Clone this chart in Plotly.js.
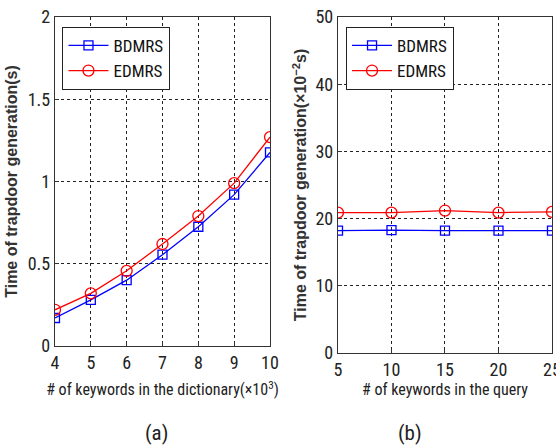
<!DOCTYPE html>
<html><head><meta charset="utf-8">
<script src="https://cdn.plot.ly/plotly-3.0.1.min.js"></script>
<style>html,body{margin:0;padding:0;background:#fff}#chart{width:556px;height:445px}</style>
</head><body><div id="chart"></div>
<script>
const dictKeywords = [4, 5, 6, 7, 8, 9, 10];
const bdmrsDict = [0.17, 0.28, 0.40, 0.555, 0.725, 0.92, 1.177];
const edmrsDict = [0.22, 0.32, 0.457, 0.62, 0.79, 0.99, 1.27];
const queryKeywords = [5, 10, 15, 20, 25];
const bdmrsQuery = [18.2, 18.3, 18.2, 18.2, 18.2];
const edmrsQuery = [20.9, 20.9, 21.2, 20.9, 21.0];
const seriesNames = ['BDMRS', 'EDMRS'];

const F = '"Roboto Condensed", "Liberation Sans", Arial, sans-serif';
const FB = '"Liberation Sans", Arial, sans-serif';
const blue = '#0000ff', red = '#ff0000';

const traces = [
  {x: dictKeywords, y: bdmrsDict, name: seriesNames[0], mode: 'lines+markers', xaxis: 'x', yaxis: 'y', legend: 'legend',
   line: {color: blue, width: 1.3}, marker: {symbol: 'square-open', size: 9, color: blue, line: {width: 1.3}}},
  {x: dictKeywords, y: edmrsDict, name: seriesNames[1], mode: 'lines+markers', xaxis: 'x', yaxis: 'y', legend: 'legend',
   line: {color: red, width: 1.3}, marker: {symbol: 'circle-open', size: 11, color: red, line: {width: 1.3}}},
  {x: queryKeywords, y: bdmrsQuery, name: seriesNames[0], mode: 'lines+markers', xaxis: 'x2', yaxis: 'y2', legend: 'legend2',
   line: {color: blue, width: 1.3}, marker: {symbol: 'square-open', size: 9, color: blue, line: {width: 1.3}}},
  {x: queryKeywords, y: edmrsQuery, name: seriesNames[1], mode: 'lines+markers', xaxis: 'x2', yaxis: 'y2', legend: 'legend2',
   line: {color: red, width: 1.3}, marker: {symbol: 'circle-open', size: 11, color: red, line: {width: 1.3}}}
];

const axBase = {
  showline: true, mirror: true, linecolor: '#333', linewidth: 1.2,
  ticks: 'inside', ticklen: 4, tickcolor: '#333',
  showgrid: true, gridcolor: '#222', griddash: 'dot', gridwidth: 1,
  zeroline: false, tickfont: {family: F, size: 18, color: '#222'},
  ticklabeloverflow: 'allow'
};

const legBase = {
  bgcolor: '#fff', bordercolor: '#222', borderwidth: 1.2,
  font: {family: F, size: 17, color: '#111'}, xanchor: 'left', yanchor: 'top',
  tracegroupgap: 0, itemwidth: 40
};

const layout = {
  width: 556, height: 445,
  margin: {l: 0, r: 0, t: 0, b: 0},
  paper_bgcolor: '#fff', plot_bgcolor: '#fff',
  showlegend: true,
  xaxis: Object.assign({}, axBase, {domain: [0.0989, 0.4856], range: [4, 10], dtick: 1, anchor: 'y',
    title: {text: '# of keywords in the dictionary(×10<sup>3</sup>)', font: {family: F, size: 16, color: '#222'}, standoff: 12}}),
  yaxis: Object.assign({}, axBase, {domain: [0.2225, 0.9618], range: [0, 2], dtick: 0.5, anchor: 'x',
    title: {text: '<b>Time of trapdoor generation(s)</b>', font: {family: FB, size: 16, color: '#333'}, standoff: 6}}),
  xaxis2: Object.assign({}, axBase, {domain: [0.6079, 0.9928], range: [5, 25], dtick: 5, anchor: 'y2',
    title: {text: '# of keywords in the query', font: {family: F, size: 16, color: '#222'}, standoff: 5}}),
  yaxis2: Object.assign({}, axBase, {domain: [0.2067, 0.9618], range: [0, 50], dtick: 10, anchor: 'x2',
    title: {text: '<b>Time of trapdoor generation(×10<sup>−2</sup>s)</b>', font: {family: FB, size: 16, color: '#333'}, standoff: 4}}),
  legend: Object.assign({}, legBase, {x: 0.112, y: 0.94}),
  legend2: Object.assign({}, legBase, {x: 0.622, y: 0.94}),
  annotations: [
    {text: '(a)', xref: 'paper', yref: 'paper', x: 0.258, y: -0.005, yanchor: 'bottom', showarrow: false, font: {family: F, size: 21, color: '#222'}},
    {text: '(b)', xref: 'paper', yref: 'paper', x: 0.763, y: -0.005, yanchor: 'bottom', showarrow: false, font: {family: F, size: 21, color: '#222'}}
  ]
};

Plotly.newPlot('chart', traces, layout, {displayModeBar: false, staticPlot: true});
</script></body></html>
